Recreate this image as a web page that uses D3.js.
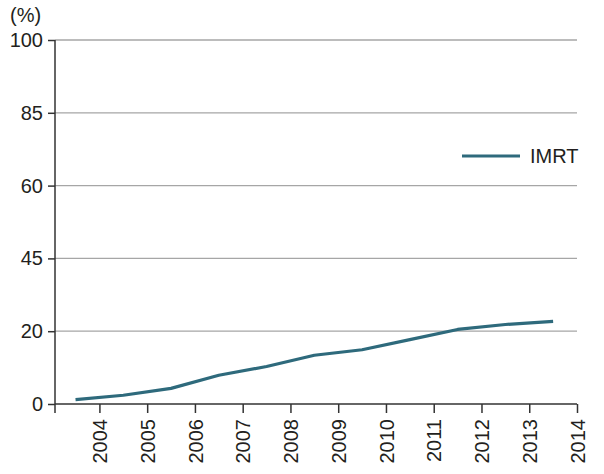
<!DOCTYPE html>
<html>
<head>
<meta charset="utf-8">
<script src="https://cdn.jsdelivr.net/npm/d3@7"></script>
<style>
  body { margin: 0; background: #fff; }
  svg text { font-family: "Liberation Sans", Arial, sans-serif; fill: #231f20; }
</style>
</head>
<body>
<svg id="svg1" width="604" height="474"></svg>
<script>
// data (mid-year points)
const years = [2003.5, 2004.5, 2005.5, 2006.5, 2007.5, 2008.5, 2009.5, 2010.5, 2011.5, 2012.5, 2013.5];
const imrt = [1.2, 2.4, 4.3, 7.9, 10.3, 13.4, 14.9, 17.7, 20.6, 22.3, 23.4];
const yTicks = [0, 20, 45, 60, 85, 100];
const xTicks = [2004, 2005, 2006, 2007, 2008, 2009, 2010, 2011, 2012, 2013, 2014];
const seriesName = 'IMRT';

const svg1 = d3.select('#svg1');
const margin = { top: 40, left: 55, right: 27, bottom: 70 };
const innerWidth = +svg1.attr('width') - margin.left - margin.right;
const innerHeight = +svg1.attr('height') - margin.top - margin.bottom;

const a = svg1.append('g')
  .attr('transform', `translate(${margin.left}, ${margin.top})`);

const xScale = d3.scaleLinear()
  .domain([2003.07, 2014])
  .range([0, innerWidth]);

// tick labels are evenly spaced although the values are not -> piecewise scale
const yScale = d3.scaleLinear()
  .domain(yTicks)
  .range(yTicks.map((d, i) => innerHeight - i * innerHeight / (yTicks.length - 1)));

// gridlines
a.append('g')
  .selectAll('line').data(yTicks.slice(1))
  .enter().append('line')
    .attr('x1', 0).attr('x2', innerWidth)
    .attr('y1', d => yScale(d)).attr('y2', d => yScale(d))
    .attr('stroke', '#a6a6a6').attr('stroke-width', 1.3);

// y axis
const yAxisA = a.append('g')
  .call(d3.axisLeft(yScale).tickValues(yTicks).tickSize(7).tickPadding(5).tickFormat(d3.format('d')));
yAxisA.select('.domain').remove();
yAxisA.selectAll('line').attr('stroke', '#333').attr('stroke-width', 1.5);
yAxisA.selectAll('text').style('font-size', '20px').attr('fill', '#231f20');
yAxisA.append('line')
  .attr('x1', 0).attr('x2', 0)
  .attr('y1', 0).attr('y2', innerHeight + 9)
  .attr('stroke', '#333').attr('stroke-width', 1.5);

// x axis
const xAxisA = a.append('g')
  .attr('transform', `translate(0, ${innerHeight})`)
  .call(d3.axisBottom(xScale).tickValues(xTicks).tickSize(9).tickFormat(d3.format('d')));
xAxisA.select('.domain').remove();
xAxisA.append('line')
  .attr('x1', 0).attr('x2', innerWidth)
  .attr('stroke', '#333').attr('stroke-width', 1.5);
xAxisA.selectAll('line').attr('stroke', '#333').attr('stroke-width', 1.5);
xAxisA.selectAll('text')
  .style('font-size', '20px')
  .attr('fill', '#231f20')
  .attr('text-anchor', 'end')
  .attr('transform', 'rotate(-90)')
  .attr('x', -15)
  .attr('y', 0)
  .attr('dy', '0.36em');

// unit label
a.append('text')
  .attr('x', -45).attr('y', -18)
  .style('font-size', '20px')
  .text('(%)');

// line
const line = d3.line()
  .x((d, i) => xScale(years[i]))
  .y(d => yScale(d));

a.append('path')
  .datum(imrt)
  .attr('d', line)
  .attr('fill', 'none')
  .attr('stroke', '#2e6a7c')
  .attr('stroke-width', 3.2)
  .attr('stroke-linejoin', 'round');

// legend
const legend = a.append('g').attr('transform', `translate(${462 - margin.left}, ${156 - margin.top})`);
legend.append('line')
  .attr('x1', 0).attr('x2', 58)
  .attr('stroke', '#2e6a7c').attr('stroke-width', 3.2);
legend.append('text')
  .attr('x', 68).attr('dy', '0.36em')
  .style('font-size', '20px')
  .text(seriesName);
</script>
</body>
</html>
